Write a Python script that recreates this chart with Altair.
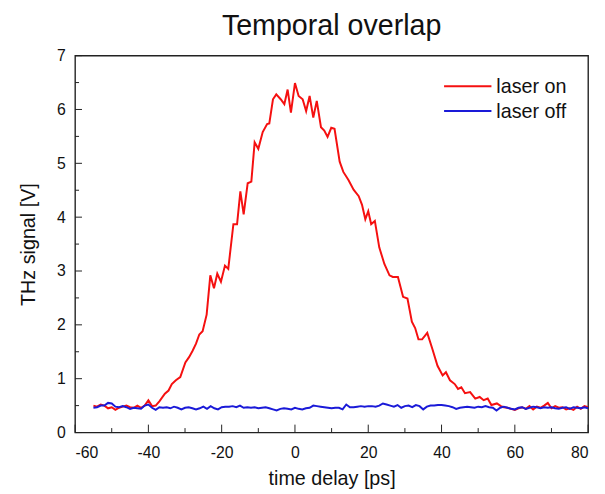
import altair as alt
import pandas as pd

# laser on (red) : time delay [ps], THz signal [V]
on_t = [-55, -54, -53, -52, -51, -50, -49, -48, -47, -46, -45, -44, -43, -42, -41, -40, -39, -38, -37,
        -35.5, -34.5, -33.6, -32.5, -31.3, -29.9, -28.9, -28, -27, -26.1, -25.2, -24.1, -23.1, -22.1,
        -21.2, -20.2, -19.1, -18.2, -16.8, -15.8, -14.9, -14, -12.9, -11.9, -11, -10, -8.8, -7.6, -7,
        -6, -5.1, -3.9, -2.9, -2, -1.1, 0, 1, 2.1, 3.05, 4, 5, 5.95, 7.1, 8, 8.9, 9.9, 10.8, 12.2,
        13.2, 14.6, 16, 17.4, 18.3, 19.2, 20, 20.8, 21.8, 23, 24.4, 25.8, 26.7, 28.1, 29.5, 30.7, 31.9,
        32.8, 33.7, 34.7, 36.1, 37.5, 38.9, 40.3, 41.2, 42.3, 43.6, 44.5, 45.4, 46.4, 47.8, 49.2, 50.4,
        51.5, 52.6, 53.6, 55.1, 56.2, 57, 58, 59, 60, 61, 62, 63, 64, 65, 66, 67, 68, 69, 70, 71, 72,
        73, 74, 75, 76, 77, 78, 79, 80]
on_v = [0.50, 0.48, 0.52, 0.50, 0.45, 0.47, 0.42, 0.46, 0.48, 0.50, 0.47, 0.46, 0.50, 0.46, 0.50, 0.60, 0.49, 0.50, 0.58,
        0.72, 0.78, 0.90, 0.97, 1.03, 1.30, 1.40, 1.51, 1.65, 1.82, 1.88, 2.19, 2.92, 2.68,
        2.95, 2.80, 3.10, 3.04, 3.87, 3.87, 4.48, 4.05, 4.63, 4.66, 5.39, 5.27, 5.58, 5.73, 5.74,
        6.19, 6.28, 6.19, 6.10, 6.37, 5.94, 6.49, 6.25, 6.19, 5.97, 6.25, 5.85, 6.16, 5.67, 5.61, 5.49, 5.66, 5.64, 5.03,
        4.84, 4.69, 4.51, 4.39, 4.23, 3.96, 4.11, 3.87, 3.93, 3.44, 3.13, 2.92, 2.89, 2.89, 2.52, 2.49, 2.06,
        1.94, 1.73, 1.73, 1.85, 1.55, 1.24, 1.06, 1.12, 0.97, 0.90, 0.81, 0.84, 0.73, 0.75, 0.63, 0.66,
        0.60, 0.63, 0.51, 0.54, 0.49, 0.47, 0.46, 0.44, 0.42, 0.45, 0.47, 0.44, 0.49, 0.43, 0.48, 0.46, 0.50, 0.55, 0.45, 0.49, 0.46,
        0.47, 0.43, 0.45, 0.42, 0.48, 0.44, 0.49, 0.47]

# laser off (blue): one sample per ps from -55 to 80
off_t = list(range(-55, 81))
off_v = [0.46, 0.47, 0.50, 0.50, 0.55, 0.54, 0.48, 0.47, 0.49, 0.47, 0.44, 0.46, 0.45, 0.44, 0.50, 0.52,
         0.46, 0.42, 0.47, 0.46, 0.47, 0.45, 0.48, 0.46, 0.43, 0.46, 0.47, 0.45, 0.43, 0.45, 0.48, 0.44,
         0.49, 0.45, 0.43, 0.47, 0.48, 0.48, 0.49, 0.47, 0.50, 0.46, 0.47, 0.46, 0.47, 0.45, 0.46, 0.47,
         0.45, 0.43, 0.41, 0.44, 0.45, 0.44, 0.43, 0.46, 0.44, 0.43, 0.45, 0.46, 0.50, 0.49, 0.48, 0.47,
         0.46, 0.45, 0.46, 0.46, 0.43, 0.52, 0.47, 0.47, 0.48, 0.49, 0.48, 0.49, 0.49, 0.48, 0.50, 0.54,
         0.52, 0.50, 0.48, 0.51, 0.46, 0.49, 0.50, 0.47, 0.51, 0.49, 0.43, 0.48, 0.50, 0.50, 0.51, 0.51,
         0.50, 0.49, 0.47, 0.44, 0.46, 0.47, 0.48, 0.47, 0.46, 0.48, 0.47, 0.49, 0.47, 0.46, 0.41, 0.46,
         0.48, 0.46, 0.44, 0.43, 0.46, 0.47, 0.44, 0.46, 0.48, 0.47, 0.45, 0.47, 0.46, 0.47, 0.45, 0.44,
         0.46, 0.47, 0.44, 0.47, 0.46, 0.45, 0.47, 0.45]

series_names = ["laser on", "laser off"]
series_colors = ["#f51010", "#1a1ad8"]
legend_rows = [0, 1]

x_major = [-60, -40, -20, 0, 20, 40, 60, 80]
x_minor = [-50, -30, -10, 10, 30, 50, 70]
y_major = [0, 1, 2, 3, 4, 5, 6, 7]
y_minor = [0.5, 1.5, 2.5, 3.5, 4.5, 5.5, 6.5]

df = pd.concat([
    pd.DataFrame({"t": on_t, "v": on_v, "s": series_names[0]}),
    pd.DataFrame({"t": off_t, "v": off_v, "s": series_names[1]}),
])
leg = pd.DataFrame({"s": series_names, "row": legend_rows})

W, H = 520, 382
FONT = "Liberation Sans"

xs = alt.Scale(domain=[-60, 80], nice=False, zero=False)
ys = alt.Scale(domain=[0, 7], nice=False)
cs = alt.Scale(domain=series_names, range=series_colors)

lines = alt.Chart(df).mark_line(strokeWidth=2, clip=True).encode(
    x=alt.X("t:Q", scale=xs, axis=alt.Axis(
        values=x_major, title="time delay [ps]", ticks=False, domain=False, grid=False,
        labelExpr="datum.value + ''",
        labelPadding=12, labelFontSize=16, labelColor="#111", labelFont=FONT,
        titleFontSize=20, titleFontWeight="normal", titleFont=FONT, titleColor="#111",
        titleBaseline="alphabetic", titleY=53)),
    y=alt.Y("v:Q", scale=ys, axis=alt.Axis(
        values=y_major, title="THz signal [V]", ticks=False, domain=False, grid=False,
        labelExpr="datum.value + ''",
        labelPadding=10, labelFontSize=16, labelColor="#111", labelFont=FONT,
        titleFontSize=20, titleFontWeight="normal", titleFont=FONT, titleColor="#111",
        titleBaseline="alphabetic", titleX=-41, titleY=H / 2, titleAngle=270)),
    color=alt.Color("s:N", scale=cs, legend=None),
    order=alt.Order("t:Q"),
)

def ticks_x(vals, length):
    return alt.Chart(pd.DataFrame({"t": vals})).mark_rule(color="#222", strokeWidth=1).encode(
        x=alt.X("t:Q", scale=xs), y=alt.value(H), y2=alt.value(H - length))

def ticks_y(vals, length):
    return alt.Chart(pd.DataFrame({"v": vals})).mark_rule(color="#222", strokeWidth=1).encode(
        y=alt.Y("v:Q", scale=ys), x=alt.value(0), x2=alt.value(length))

leg_y = alt.Y("row:Q", scale=alt.Scale(domain=[0, 1], range=[31, 56], nice=False, zero=False),
              axis=None)
leg_lines = alt.Chart(leg).mark_rule(strokeWidth=2).encode(
    y=leg_y, x=alt.value(374), x2=alt.value(422), color=alt.Color("s:N", scale=cs, legend=None))
leg_text = alt.Chart(leg).mark_text(align="left", baseline="middle", fontSize=20, font=FONT,
                                    color="#111", dy=1).encode(
    y=leg_y, x=alt.value(427), text="s:N")

base = alt.layer(
    ticks_x(x_major, 8), ticks_x(x_minor, 4.5), ticks_y(y_major, 7), ticks_y(y_minor, 4), lines
)

chart = alt.layer(base, leg_lines, leg_text).resolve_scale(y="independent").properties(
    width=W, height=H,
    title=alt.TitleParams("Temporal overlap", fontSize=29, fontWeight="normal", font=FONT,
                          color="#111", anchor="middle", offset=7),
    autosize="none",
    padding={"left": 68, "top": 45, "right": 9, "bottom": 57},
).configure_view(stroke="#222", strokeWidth=1.4)

chart.save("out.html", embed_options={"renderer": "svg", "actions": False})
